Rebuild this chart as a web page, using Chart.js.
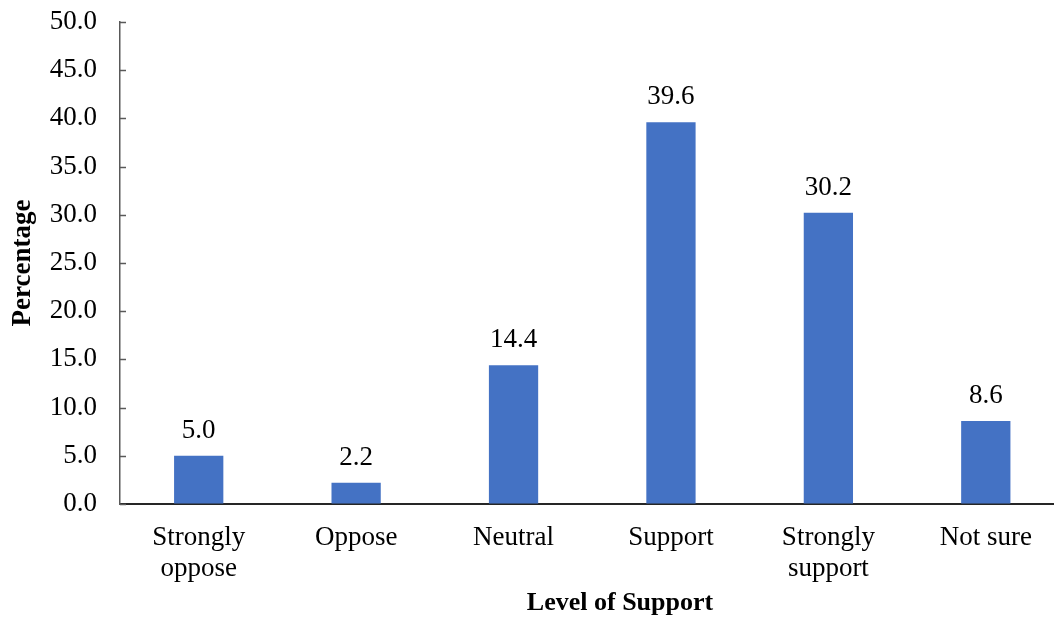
<!DOCTYPE html>
<html>
<head>
<meta charset="utf-8">
<script src="https://cdn.jsdelivr.net/npm/chart.js@4.4.0/dist/chart.umd.min.js"></script>
<style>
  html, body { margin: 0; padding: 0; background: #fff; overflow: hidden; }
  #wrap { width: 1054px; height: 617px; overflow: hidden; }
</style>
</head>
<body>
<div id="wrap"><canvas id="c" width="1066" height="617"></canvas></div>
<script>
// Data
const categories = [["Strongly", "oppose"], "Oppose", "Neutral", "Support", ["Strongly", "support"], "Not sure"];
const percentages = [5.0, 2.2, 14.4, 39.6, 30.2, 8.6];
const yMin = 0;
const yMax = 50;
const yStep = 5;

const FONT = "'Liberation Serif', 'Times New Roman', serif";
const BAR_COLOR = "#4472C4";

// Label angka di atas bar
const valueLabels = {
  id: "valueLabels",
  afterDatasetsDraw(chart) {
    const ctx = chart.ctx;
    const meta = chart.getDatasetMeta(0);
    ctx.save();
    ctx.font = "27px " + FONT;
    ctx.fillStyle = "#000";
    ctx.textAlign = "center";
    ctx.textBaseline = "alphabetic";
    meta.data.forEach((bar, i) => {
      ctx.fillText(percentages[i].toFixed(1), bar.x, bar.y - 18);
    });
    ctx.restore();
  },
};

// Tick kecil ke dalam pada sumbu Y + judul sumbu X
const axisExtras = {
  id: "axisExtras",
  afterDraw(chart) {
    const ctx = chart.ctx;
    const y = chart.scales.y;
    ctx.save();
    ctx.strokeStyle = "#595959";
    ctx.lineWidth = 1.5;
    y.ticks.forEach((t, i) => {
      const py = Math.round(y.getPixelForTick(i)) + 0.5;
      ctx.beginPath();
      ctx.moveTo(y.right, py);
      ctx.lineTo(y.right + 6, py);
      ctx.stroke();
    });
    ctx.font = "bold 26px " + FONT;
    ctx.fillStyle = "#000";
    ctx.textAlign = "center";
    ctx.textBaseline = "alphabetic";
    ctx.fillText("Level of Support", 620, 610);
    ctx.restore();
  },
};

new Chart(document.getElementById("c"), {
  type: "bar",
  data: {
    labels: categories,
    datasets: [
      {
        data: percentages,
        backgroundColor: BAR_COLOR,
        barPercentage: 0.313,
        categoryPercentage: 1,
      },
    ],
  },
  options: {
    responsive: false,
    animation: false,
    layout: { padding: { top: 22, right: 1.5, bottom: 0, left: 0 } },
    plugins: {
      legend: { display: false },
      tooltip: { enabled: false },
    },
    scales: {
      x: {
        grid: { display: false },
        border: { display: true, color: "#262626", width: 2 },
        ticks: {
          color: "#000",
          font: { family: FONT, size: 27, lineHeight: 1.15 },
          padding: 10,
          maxRotation: 0,
          autoSkip: false,
        },
        afterFit(scale) {
          scale.height = 113;
        },
      },
      y: {
        min: yMin,
        max: yMax,
        grid: {
          display: true,
          drawOnChartArea: false,
          drawTicks: true,
          tickLength: 23,
          color: "rgba(0,0,0,0)",
        },
        border: { display: true, color: "#595959", width: 1.5 },
        ticks: {
          stepSize: yStep,
          color: "#000",
          font: { family: FONT, size: 27 },
          padding: 0,
          callback: (v) => Number(v).toFixed(1),
        },
        title: {
          display: true,
          text: "Percentage",
          color: "#000",
          font: { family: FONT, size: 27, weight: "bold" },
          padding: { top: 7, bottom: 0 },
        },
        afterFit(scale) {
          scale.width = 120;
        },
      },
    },
  },
  plugins: [valueLabels, axisExtras],
});
</script>
</body>
</html>
